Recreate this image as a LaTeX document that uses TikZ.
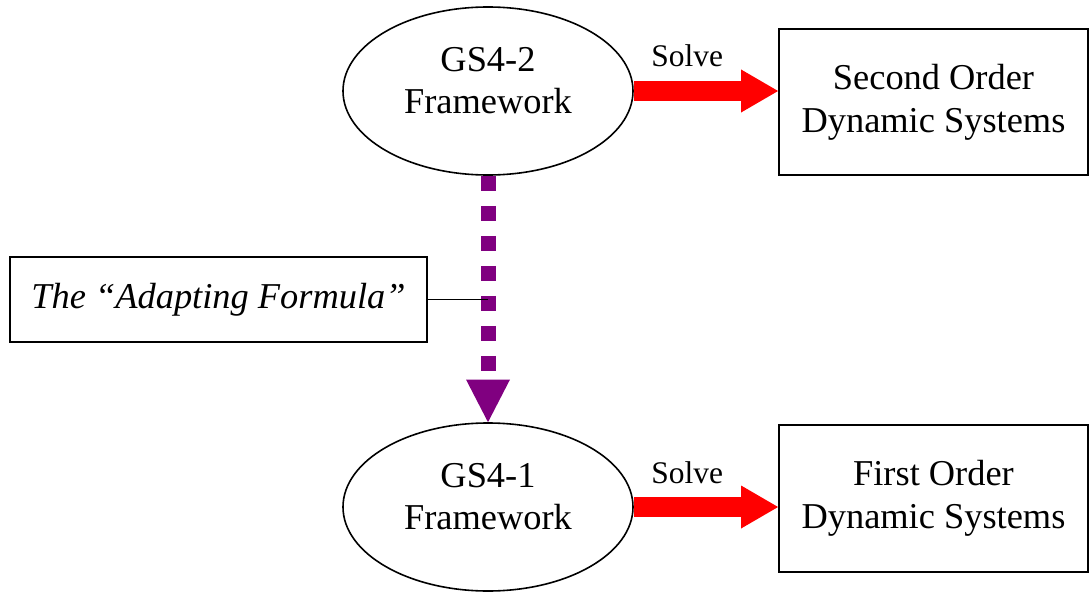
\documentclass[tikz,border=0pt]{standalone}
\usepackage{fontspec}
\setmainfont{Liberation Serif}
\usetikzlibrary{shapes.geometric}
\usetikzlibrary{arrows.meta}
\definecolor{solvered}{RGB}{255,0,0}
\definecolor{adaptpurple}{RGB}{128,0,128}

\begin{document}
\begin{tikzpicture}[x=0.75pt, y=-0.75pt,
  frame/.style={ellipse, draw, line width=1.2pt, minimum width=217.5pt,
    minimum height=126pt, inner sep=0pt, align=center, text depth=16pt,
    font=\fontsize{27.3}{31}\selectfont},
  system/.style={rectangle, draw, line width=1.4pt, minimum width=231.75pt,
    minimum height=110pt, align=center, font=\fontsize{27.3}{32}\selectfont},
  solve/.style={draw=solvered, line width=15pt,
    -{Triangle[width=32.25pt, length=27.75pt, line width=0pt]}},
  solvelabel/.style={pos=0.37, anchor=base, yshift=18pt,
    font=\fontsize{23.6}{26}\selectfont},
  adapting/.style={draw=adaptpurple, line width=11.25pt,
    dash pattern=on 11.25pt off 11.25pt,
    -{Triangle[width=33pt, length=32pt, line width=0pt]}}]
\useasboundingbox (0,0) rectangle (1092,592);

\node[frame]  (gs2) at (488,91)    {GS4-2\\Framework};
\node[frame]  (gs1) at (488,507)   {GS4-1\\Framework};
\node[system] (sys2) at (933.5,102)   {Second Order\\Dynamic Systems};
\node[system] (sys1) at (933.5,498.5) {First Order\\Dynamic Systems};
\node[rectangle, draw, line width=1.2pt, minimum width=312.75pt,
  minimum height=63.75pt, font=\fontsize{27.3}{31}\selectfont\itshape]
  (adapt) at (218.5,299.5) {The “Adapting Formula”};

\draw[solve] (gs2.east) -- (gs2.east -| sys2.west) node[solvelabel] {Solve};
\draw[solve] (gs1.east) -- (gs1.east -| sys1.west) node[solvelabel] {Solve};

\draw[adapting] (gs2.south) -- (gs1.north);
\draw[line width=1pt] (adapt.east) -- (adapt.east -| gs2.south);

\end{tikzpicture}
\end{document}
